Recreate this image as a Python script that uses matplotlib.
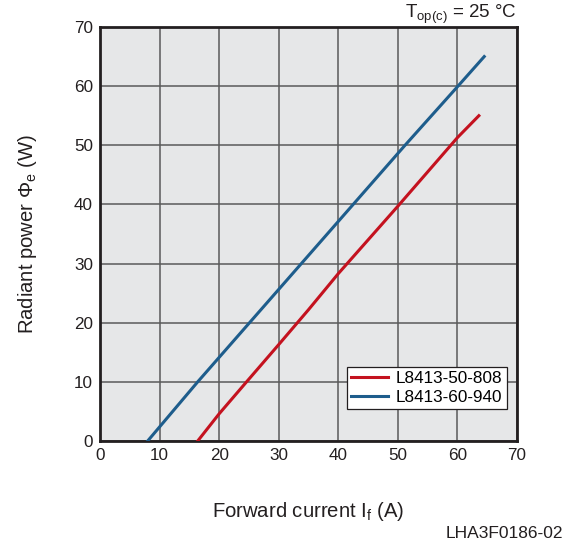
import matplotlib
matplotlib.use("Agg")
import matplotlib.pyplot as plt

plt.rcParams['font.family'] = ['Liberation Sans', 'DejaVu Sans']
plt.rcParams['mathtext.fontset'] = 'custom'
plt.rcParams['mathtext.rm'] = 'Liberation Sans'
plt.rcParams['mathtext.it'] = 'Liberation Sans'

# Data
red_label = "L8413-50-808"
red_x = [16.4, 20, 24.6, 30, 35, 40, 45, 50, 55, 60, 63.6]
red_y = [0, 4.6, 10, 16.3, 22.2, 28.3, 34.0, 39.7, 45.5, 51.3, 55.0]

blue_label = "L8413-60-940"
blue_x = [8.0, 16.4, 25.1, 33.8, 42.5, 51.2, 60.0, 64.5]
blue_y = [0, 10, 20, 30, 40, 50, 59.9, 65.0]

x_ticks = [0, 10, 20, 30, 40, 50, 60, 70]
y_ticks = [0, 10, 20, 30, 40, 50, 60, 70]

fig = plt.figure(figsize=(5.65, 5.48), dpi=100)
ax = fig.add_axes([100/565, 1-441/548, 417/565, 414/548])
ax.set_facecolor('#e6e7e8')

ax.plot(red_x, red_y, color='#c4121f', lw=2.2, label=red_label, zorder=3)
ax.plot(blue_x, blue_y, color='#1e5d8c', lw=2.2, label=blue_label, zorder=3)

ax.set_xlim(0, 70)
ax.set_ylim(0, 70)
ax.set_xticks(x_ticks)
ax.set_yticks(y_ticks)
ax.tick_params(length=0, labelsize=12.3, pad=5, colors='#231f20')
ax.grid(True, color='#5a5a5a', lw=1.1)
ax.set_axisbelow(True)
for s in ax.spines.values():
    s.set_linewidth(2.0)
    s.set_color('#231f20')

ax.set_xlabel(r'Forward current I$_{\mathregular{f}}$ (A)', fontsize=14.6, labelpad=27, color='#231f20')
ax.set_ylabel(r'Radiant power Φ$_{\mathregular{e}}$ (W)', fontsize=14.6, labelpad=25, color='#231f20')

leg = ax.legend(loc='lower right', bbox_to_anchor=(0.976, 0.077), fontsize=12.3,
                frameon=True, fancybox=False, framealpha=1, edgecolor='#231f20',
                handlelength=2.15, borderpad=0.25, labelspacing=0.2, handletextpad=0.5,
                borderaxespad=0)
leg.get_frame().set_linewidth(0.9)

fig.text(517/565, 1-14/548, r'T$_{\mathregular{op(c)}}$ = 25 °C', ha='right', va='center',
         fontsize=13.5, color='#231f20')
fig.text(563/565, 1-533/548, 'LHA3F0186-02', ha='right', va='center', fontsize=12.5, color='#231f20')

fig.savefig('out.png', dpi=100)
